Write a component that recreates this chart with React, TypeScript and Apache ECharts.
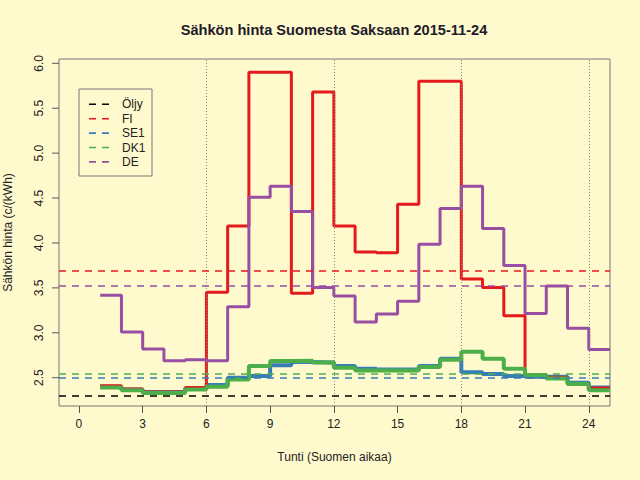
import React, { useEffect, useRef } from "react";
import * as echarts from "echarts";

const titleText = "Sähkön hinta Suomesta Saksaan 2015-11-24";
const xName = "Tunti (Suomen aikaa)";
const yName = "Sähkön hinta (c/(kWh)";

const hours = [1, 2, 3, 4, 5, 6, 7, 8, 9, 10, 11, 12, 13, 14, 15, 16, 17, 18, 19, 20, 21, 22, 23, 24];
const endHour = 25;

const fiValues = [2.41, 2.375, 2.34, 2.34, 2.39, 3.45, 4.19, 5.9, 5.9, 3.44, 5.68, 4.19, 3.9, 3.89, 4.43, 5.8, 5.8, 3.6, 3.505, 3.19, 2.53, 2.505, 2.43, 2.385];
const se1Values = [2.4, 2.37, 2.34, 2.34, 2.38, 2.42, 2.5, 2.52, 2.64, 2.675, 2.67, 2.63, 2.6, 2.59, 2.59, 2.63, 2.71, 2.56, 2.54, 2.52, 2.51, 2.51, 2.445, 2.39];
const dk1Values = [2.39, 2.36, 2.33, 2.33, 2.37, 2.4, 2.48, 2.63, 2.685, 2.69, 2.67, 2.61, 2.58, 2.58, 2.58, 2.62, 2.7, 2.79, 2.71, 2.6, 2.53, 2.49, 2.43, 2.36];
const deValues = [3.419, 3.008, 2.82, 2.69, 2.7, 2.69, 3.29, 4.51, 4.63, 4.35, 3.504, 3.41, 3.12, 3.21, 3.35, 3.985, 4.385, 4.63, 4.16, 3.75, 3.216, 3.52, 3.05, 2.815];

const seriesNames = ["Öljy", "FI", "SE1", "DK1", "DE"];
const seriesColors = ["#000000", "#E41A1C", "#377EB8", "#4DAF4A", "#984EA3"];
const referenceLevels = [2.3, 3.685, 2.505, 2.54, 3.52];

const xTicks = [0, 3, 6, 9, 12, 15, 18, 21, 24];
const yTicks = [2.5, 3.0, 3.5, 4.0, 4.5, 5.0, 5.5, 6.0];
const dottedHours = [6, 12, 18, 24];

const X_MIN = -0.94;
const X_MAX = 25;
const Y_MIN = 2.185;
const Y_MAX = 6.048;

const FONT = "'Liberation Sans', Arial, Helvetica, sans-serif";

function stepData(values: number[]) {
  const d = hours.map((h, i) => [h, values[i]]);
  d.push([endHour, values[values.length - 1]]);
  return d;
}

export default function App() {
  const ref = useRef<HTMLDivElement>(null);
  useEffect(() => {
    if (!ref.current) return;
    const chart = echarts.init(ref.current, undefined, { renderer: "svg" });

    const valuesByName: Record<string, number[] | null> = {
      "Öljy": null,
      FI: fiValues,
      SE1: se1Values,
      DK1: dk1Values,
      DE: deValues,
    };
    const widths: Record<string, number> = { FI: 3, SE1: 4, DK1: 4, DE: 3 };

    const refSeries = seriesNames.map((name, i) => ({
      type: "line",
      name: name + "-ref",
      data: [],
      silent: true,
      z: 1,
      markLine: {
        silent: true,
        symbol: ["none", "none"],
        label: { show: false },
        lineStyle: { color: seriesColors[i], type: [7, 6], width: 1.6 },
        data: [{ yAxis: referenceLevels[i] }],
      },
    }));

    const drawOrder = ["SE1", "FI", "DK1", "DE"];
    const stepSeries = drawOrder.map((name) => {
      const i = seriesNames.indexOf(name);
      return {
        type: "line",
        name,
        step: "end",
        data: stepData(valuesByName[name] as number[]),
        showSymbol: false,
        symbol: "none",
        z: 3,
        lineStyle: { color: seriesColors[i], width: widths[name] },
      };
    });

    const vlineSeries = {
      type: "line",
      name: "vlines",
      data: [],
      silent: true,
      z: 1,
      markLine: {
        silent: true,
        symbol: ["none", "none"],
        label: { show: false },
        lineStyle: { color: "#888888", type: [1, 2], width: 1 },
        data: dottedHours.map((h) => ({ xAxis: h })),
      },
    };

    const legendX = 79, legendY = 89, legendW = 73, legendH = 87;
    const rowY0 = 104.3, rowStep = 14.4;
    const legendGraphics: any[] = [
      {
        type: "rect",
        shape: { x: legendX, y: legendY, width: legendW, height: legendH },
        style: { fill: "none", stroke: "#777777", lineWidth: 1 },
      },
    ];
    seriesNames.forEach((name, i) => {
      const y = rowY0 + i * rowStep;
      legendGraphics.push({
        type: "line",
        shape: { x1: 89, y1: y, x2: 109, y2: y },
        style: { stroke: seriesColors[i], lineWidth: 1.6, lineDash: [7, 6] },
      });
      legendGraphics.push({
        type: "text",
        x: 122,
        y: y,
        style: {
          text: name,
          fill: "#222222",
          font: "12px " + FONT,
          textVerticalAlign: "middle",
          textAlign: "left",
        },
      });
    });

    const titleGraphic = {
      type: "text",
      x: 334,
      y: 30,
      style: {
        text: titleText,
        fill: "#221a28",
        font: "bold 14.6px " + FONT,
        textAlign: "center",
        textVerticalAlign: "middle",
      },
    };

    chart.setOption({
      animation: false,
      backgroundColor: "#FFFACD",
      textStyle: { fontFamily: FONT },
      grid: {
        left: 59,
        top: 59,
        right: 30,
        bottom: 74,
        show: true,
        containLabel: false,
        outerBoundsMode: "none",
        borderColor: "#777777",
        borderWidth: 1,
        backgroundColor: "transparent",
      },
      xAxis: {
        type: "value",
        min: X_MIN,
        max: X_MAX,
        name: xName,
        nameLocation: "middle",
        nameGap: 45,
        nameMoveOverlap: false,
        nameTextStyle: { fontSize: 12, color: "#222222", fontFamily: FONT },
        axisLine: { show: false },
        axisTick: { show: true, length: 7, inside: false, customValues: xTicks, lineStyle: { color: "#555555" } },
        axisLabel: { customValues: xTicks, fontSize: 12, color: "#222222", margin: 12, fontFamily: FONT },
        splitLine: { show: false },
      },
      yAxis: {
        type: "value",
        min: Y_MIN,
        max: Y_MAX,
        name: yName,
        nameLocation: "middle",
        nameGap: 45,
        nameMoveOverlap: false,
        nameTextStyle: { fontSize: 12, color: "#222222", fontFamily: FONT },
        axisLine: { show: false },
        axisTick: { show: false },
        axisLabel: {
          customValues: yTicks,
          rotate: 90,
          fontSize: 12,
          color: "#222222",
          margin: 14,
          fontFamily: FONT,
          formatter: (v: number) => v.toFixed(1),
        },
        splitLine: { show: false },
      },
      graphic: [titleGraphic, ...legendGraphics],
      series: [vlineSeries, ...refSeries, ...stepSeries],
    });

    // y-axis tick marks placed through the axis scale
    const leftPx = chart.convertToPixel({ xAxisIndex: 0 }, X_MIN) as number;
    const yTickGraphics = yTicks.map((v) => {
      const py = chart.convertToPixel({ yAxisIndex: 0 }, v) as number;
      return {
        type: "line",
        shape: { x1: leftPx - 7, y1: py, x2: leftPx, y2: py },
        style: { stroke: "#555555", lineWidth: 1 },
      };
    });
    chart.setOption({ graphic: [titleGraphic, ...legendGraphics, ...yTickGraphics] });

    return () => chart.dispose();
  }, []);

  return (
    <div
      ref={ref}
      style={{ position: "fixed", left: 0, top: 0, width: 640, height: 480 }}
    />
  );
}
